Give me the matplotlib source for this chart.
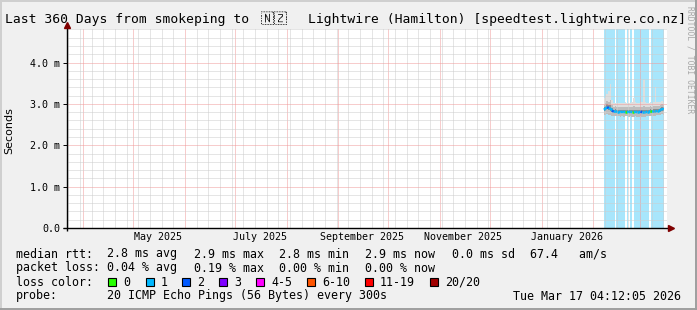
import numpy as np
import pandas as pd
import matplotlib
matplotlib.use("Agg")
from matplotlib import pyplot as plt
import matplotlib.dates as mdates
from matplotlib import font_manager
from matplotlib.ft2font import FT2Font
from matplotlib.ticker import MultipleLocator, FuncFormatter, NullFormatter
from matplotlib.collections import LineCollection
from matplotlib.lines import Line2D
from matplotlib.patches import Rectangle
from matplotlib.transforms import blended_transform_factory

# ---- data (milliseconds) ----
t_start = pd.Timestamp("2025-03-22 04:12:05")
t_end = pd.Timestamp("2026-03-17 04:12:05")
first_sample = "2026-02-07 06:00"

median = [2.86, 2.88, 2.92, 2.90, 2.89, 2.84, 2.81, 2.82, 2.81, 2.81, 2.80, 2.81, 2.80,
          2.81, 2.81, 2.80, 2.81, 2.80, 2.80, 2.81, 2.80, 2.80, 2.81, 2.80, 2.80, 2.80,
          2.81, 2.81, 2.82, 2.81, 2.82, 2.82, 2.83, 2.83, 2.85, 2.88, 2.87]
p_max = [3.15, 3.20, 3.25, 3.30, 3.49, 3.10, 3.02, 3.03, 3.02, 3.03, 3.02, 3.03, 3.02,
         3.04, 3.03, 3.02, 3.03, 3.05, 3.15, 3.04, 3.03, 3.03, 3.04, 3.05, 3.58, 3.04,
         3.03, 3.03, 3.04, 3.03, 3.05, 3.40, 3.05, 3.04, 3.05, 3.06, 3.05]
p_hi = [2.98, 3.02, 3.06, 3.05, 3.10, 2.97, 2.93, 2.94, 2.93, 2.93, 2.92, 2.93, 2.92,
        2.93, 2.93, 2.92, 2.93, 2.93, 2.94, 2.93, 2.92, 2.92, 2.93, 2.93, 2.95, 2.93,
        2.93, 2.93, 2.94, 2.93, 2.94, 2.96, 2.95, 2.95, 2.97, 2.99, 2.98]
q_hi = [2.92, 2.96, 3.00, 2.98, 2.97, 2.89, 2.86, 2.87, 2.86, 2.86, 2.85, 2.86, 2.85,
        2.86, 2.86, 2.85, 2.86, 2.85, 2.86, 2.86, 2.85, 2.85, 2.86, 2.85, 2.86, 2.85,
        2.86, 2.86, 2.87, 2.86, 2.87, 2.88, 2.88, 2.88, 2.90, 2.93, 2.92]
q_lo = [2.82, 2.84, 2.87, 2.85, 2.84, 2.80, 2.78, 2.79, 2.78, 2.78, 2.77, 2.78, 2.77,
        2.78, 2.78, 2.77, 2.78, 2.77, 2.77, 2.78, 2.77, 2.77, 2.78, 2.77, 2.77, 2.77,
        2.78, 2.78, 2.79, 2.78, 2.79, 2.79, 2.80, 2.80, 2.81, 2.84, 2.83]
p_min = [2.72, 2.74, 2.76, 2.74, 2.73, 2.70, 2.70, 2.71, 2.70, 2.70, 2.69, 2.70, 2.69,
         2.70, 2.70, 2.69, 2.70, 2.69, 2.69, 2.70, 2.69, 2.69, 2.70, 2.69, 2.69, 2.69,
         2.70, 2.70, 2.71, 2.70, 2.71, 2.71, 2.72, 2.72, 2.73, 2.75, 2.74]
loss_idx = [1, 1, 2, 1, 1, 2, 1, 1, 1, 1, 1, 1, 1, 0, 1, 1, 1, 0, 1, 1, 1, 1, 2, 1, 1,
            1, 1, 1, 0, 1, 1, 1, 1, 1, 1, 1, 2]

loss_bg = [("2026-02-07 04:00", "2026-02-13 20:00"),
           ("2026-02-14 20:00", "2026-02-20 00:00"),
           ("2026-02-21 00:00", "2026-02-22 00:00"),
           ("2026-02-22 20:00", "2026-02-24 10:00"),
           ("2026-02-25 05:00", "2026-03-06 14:00"),
           ("2026-03-07 14:00", "2026-03-15 14:00")]

loss_labels = ["0", "1", "2", "3", "4-5", "6-10", "11-19", "20/20"]
loss_colors = ["#26ff00", "#00b8ff", "#0059ff", "#7e00ff", "#ff00ff", "#ff5500", "#ff0000", "#a10000"]

month_labels = ["May 2025", "July 2025", "September 2025", "November 2025", "January 2026"]
month_label_dates = ["2025-05-16", "2025-07-16", "2025-09-15", "2025-11-15", "2026-01-16"]

rtt_row = ["2.8 ms avg", "2.9 ms max", "2.8 ms min", "2.9 ms now", "0.0 ms sd", "67.4   am/s"]
loss_row = ["0.04 % avg", "0.19 % max", "0.00 % min", "0.00 % now"]

flag = "\U0001F1F3\U0001F1FF"

W, H = 697, 310
MONO = "DejaVu Sans Mono"


def family_with(chars):
    for f in font_manager.fontManager.ttflist:
        try:
            cm = FT2Font(f.fname).get_charmap()
        except Exception:
            continue
        if all(ord(c) in cm for c in chars):
            return f.name
    return None


fig = plt.figure(figsize=(W / 100, H / 100), dpi=100, facecolor="#f0f0f0")
ax = fig.add_axes([67 / W, 82 / H, 600 / W, 199 / H])
ax.set_facecolor("white")
for s in ax.spines.values():
    s.set_visible(False)

dates = pd.date_range(first_sample, periods=len(median), freq="D")

for s, e in loss_bg:
    ax.axvspan(pd.Timestamp(s), pd.Timestamp(e), color="#a8e6fc", lw=0, zorder=0.5)

ax.fill_between(dates, p_min, p_max, step="mid", color="#dedede", lw=0, zorder=1)
ax.fill_between(dates, p_min, p_hi, step="mid", color="#bdbdbd", lw=0, zorder=1.1)
ax.fill_between(dates, q_lo, q_hi, step="mid", color="#8e8e8e", lw=0, zorder=1.2)

xn = mdates.date2num(dates)
segs = [[(xn[i], median[i]), (xn[i + 1], median[i + 1])] for i in range(len(xn) - 1)]
lc = LineCollection(segs, colors=[loss_colors[k] for k in loss_idx[:-1]], linewidths=1.8, zorder=3)
ax.add_collection(lc)

ax.set_xlim(t_start, t_end)
ax.set_ylim(0, 4.81)

# grid
ax.xaxis.set_major_locator(mdates.MonthLocator())
ax.xaxis.set_minor_locator(mdates.WeekdayLocator(byweekday=mdates.SU))
ax.xaxis.set_major_formatter(NullFormatter())
ax.yaxis.set_major_locator(MultipleLocator(1))
ax.yaxis.set_minor_locator(MultipleLocator(0.2))
ax.yaxis.set_major_formatter(FuncFormatter(lambda v, _: "0.0" if v == 0 else f"{v:.1f} m"))
ax.set_axisbelow(False)
ax.grid(which="major", color="#f09a9a", ls=(0, (1, 1)), lw=0.72)
ax.grid(which="minor", color="#cdcdcd", ls=(0, (1, 1)), lw=0.72)
ax.tick_params(axis="x", which="both", length=0)
ax.tick_params(axis="y", which="major", length=3, width=0.7, pad=2, labelsize=7.2)
ax.tick_params(axis="y", which="minor", length=0)
for lab in ax.get_yticklabels():
    lab.set_family(MONO)

xt = blended_transform_factory(ax.transData, ax.transAxes)
for lab, d in zip(month_labels, month_label_dates):
    ax.text(pd.Timestamp(d), -0.047, lab, transform=xt, ha="center", va="center",
            fontsize=7.2, family=MONO)

# axes lines and arrows
ax.plot([-4 / 600, 602 / 600], [0, 0], transform=ax.transAxes, color="black", lw=1,
        clip_on=False, zorder=4, solid_capstyle="butt")
ax.plot([0, 0], [-3 / 199, 202 / 199], transform=ax.transAxes, color="black", lw=1,
        clip_on=False, zorder=4, solid_capstyle="butt")
ax.plot([604 / 600], [0], marker=">", ms=5, color="#7f0000", transform=ax.transAxes,
        clip_on=False, zorder=5)
ax.plot([0], [203 / 199], marker="^", ms=5, color="#7f0000", transform=ax.transAxes,
        clip_on=False, zorder=5)

ax.set_ylabel("Seconds", fontsize=8)
ax.yaxis.set_label_coords(-53 / 600, 0.49)


def ftext(x, y, s, **kw):
    kw.setdefault("family", MONO)
    kw.setdefault("fontsize", 8.4)
    return fig.text(x / W, 1 - y / H, s, va="center", ha=kw.pop("ha", "left"), **kw)


ftext(5, 19, "Last 360 Days from smokeping to", fontsize=9.35)
flag_family = family_with(flag)
if flag_family:
    ftext(261, 19, flag, fontsize=9.35, family=[MONO, flag_family])
else:
    # no installed font has the flag symbols: draw the hex boxes the reference shows
    for i, c in enumerate(flag):
        bx = 261 + i * 13
        fig.add_artist(Rectangle((bx / W, (H - 25) / H), 11 / W, 12 / H, transform=fig.transFigure,
                                 facecolor="none", edgecolor="black", lw=0.6))
        code = f"{ord(c):06X}"
        ftext(bx + 5.5, 16, code[:3], fontsize=3.6, ha="center")
        ftext(bx + 5.5, 22, code[3:], fontsize=3.6, ha="center")
ftext(308, 19, "Lightwire (Hamilton) [speedtest.lightwire.co.nz]", fontsize=9.35)
fig.text(690 / W, 1 - 6 / H, "RRDTOOL / TOBI OETIKER", rotation=270, ha="center", va="top",
         fontsize=5.8, color="#a8a8a8", family=MONO)

cols = [107.3, 193.7, 279, 365, 451.7, 530]
ftext(16, 254, "median rtt:")
for x, s in zip(cols, rtt_row):
    ftext(x, 254, s)
ftext(16, 268, "packet loss:")
for x, s in zip(cols, loss_row):
    ftext(x, 268, s)
ftext(16, 282, "loss color:")
box_x = [108, 146, 182, 219, 256, 307, 365, 430]
for x, lab, c in zip(box_x, loss_labels, loss_colors):
    fig.add_artist(Rectangle((x / W, (H - 286) / H), 8 / W, 8 / H, transform=fig.transFigure,
                             facecolor=c, edgecolor="black", lw=0.8))
    ftext(x + 15, 282, lab)
ftext(16, 296, "probe:")
ftext(107.3, 296, "20 ICMP Echo Pings (56 Bytes) every 300s")
ftext(513.3, 296, "Tue Mar 17 04:12:05 2026")

# 3d frame
fig.add_artist(Line2D([0, 1], [1 - 1 / H, 1 - 1 / H], transform=fig.transFigure, color="#cfcfcf", lw=1.4))
fig.add_artist(Line2D([1 / W, 1 / W], [0, 1], transform=fig.transFigure, color="#cfcfcf", lw=1.4))
fig.add_artist(Line2D([0, 1], [1 / H, 1 / H], transform=fig.transFigure, color="#9e9e9e", lw=1.4))
fig.add_artist(Line2D([1 - 1 / W, 1 - 1 / W], [0, 1], transform=fig.transFigure, color="#9e9e9e", lw=1.4))

fig.savefig("out.png", dpi=100, facecolor=fig.get_facecolor())
